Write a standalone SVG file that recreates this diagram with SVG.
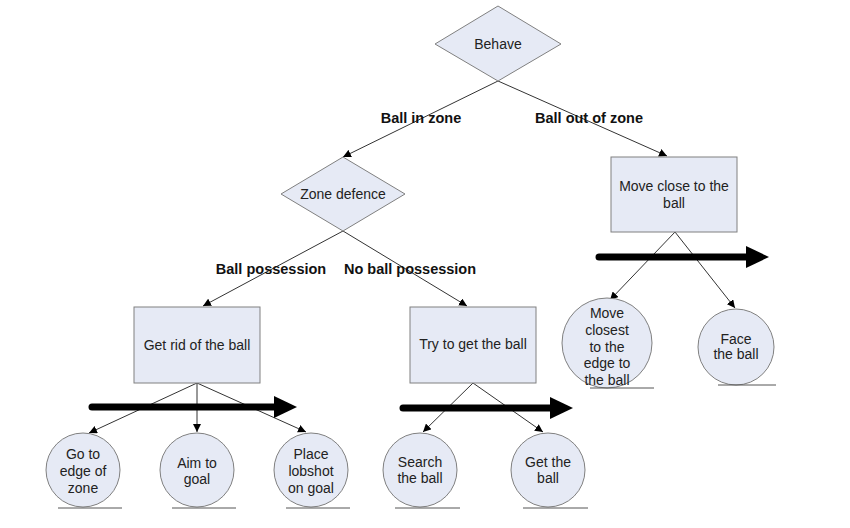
<svg xmlns="http://www.w3.org/2000/svg" width="850" height="528" viewBox="0 0 850 528">
<defs>
<style>
.shape{fill:#e6eaf5;stroke:#808080;stroke-width:1}
.t{font-family:"Liberation Sans",Arial,sans-serif;font-size:14px;fill:#222;text-anchor:middle}
.lb{font-family:"Liberation Sans",Arial,sans-serif;font-size:14.5px;font-weight:bold;fill:#111;text-anchor:middle}
.c{stroke:#333;stroke-width:1;fill:none;marker-end:url(#ah)}
.thick{stroke:#000;stroke-width:7;stroke-linecap:round;fill:none}
.sh{stroke:#555;stroke-width:1}
</style>
<marker id="ah" viewBox="0 0 10 10" refX="10" refY="5" markerWidth="8" markerHeight="8" markerUnits="userSpaceOnUse" orient="auto">
<path d="M0,0 L10,5 L0,10 Z" fill="#000"/>
</marker>
</defs>
<rect width="850" height="528" fill="#fff"/>
<g id="connectors">
<line class="c" x1="498" y1="81" x2="343" y2="157"/>
<line class="c" x1="498" y1="81" x2="667" y2="156"/>
<line class="c" x1="343" y1="231" x2="203" y2="306"/>
<line class="c" x1="343" y1="231" x2="467" y2="306"/>
<line class="c" x1="197" y1="383" x2="89" y2="433"/>
<line class="c" x1="197" y1="383" x2="197" y2="432"/>
<line class="c" x1="197" y1="383" x2="306" y2="432"/>
<line class="c" x1="473" y1="383" x2="423" y2="432"/>
<line class="c" x1="473" y1="383" x2="543" y2="432"/>
<line class="c" x1="675" y1="232" x2="610" y2="300"/>
<line class="c" x1="675" y1="232" x2="735" y2="308"/>
<g id="seq1"><line class="thick" x1="92" y1="407" x2="276" y2="407"/><polygon points="274,396 297,407 274,418" fill="#000"/></g>
<g id="seq2"><line class="thick" x1="403" y1="408" x2="552" y2="408"/><polygon points="550,397 573,408 550,419" fill="#000"/></g>
<g id="seq3"><line class="thick" x1="599" y1="257" x2="748" y2="257"/><polygon points="746,246 769,257 746,268" fill="#000"/></g>
<text class="lb" x="421" y="123">Ball in zone</text>
<text class="lb" x="589" y="123">Ball out of zone</text>
<text class="lb" x="271" y="274">Ball possession</text>
<text class="lb" x="410" y="274">No ball possession</text>
</g>
<g id="behave">
<polygon class="shape" points="498,6 561,44 498,81 435,44"/>
<text class="t" x="498" y="49">Behave</text>
</g>
<g id="zone-defence">
<polygon class="shape" points="343,157 405,194 343,231 281,194"/>
<text class="t" x="343" y="199">Zone defence</text>
</g>
<g id="move-close">
<rect class="shape" x="611" y="157" width="126" height="75"/>
<text class="t" x="674" y="191">Move close to the</text>
<text class="t" x="674" y="208">ball</text>
</g>
<g id="get-rid">
<rect class="shape" x="134" y="307" width="126" height="76"/>
<text class="t" x="197" y="350">Get rid of the ball</text>
</g>
<g id="try-get">
<rect class="shape" x="410" y="307" width="126" height="76"/>
<text class="t" x="473" y="349">Try to get the ball</text>
</g>
<g id="go-edge">
<circle class="shape" cx="83" cy="470" r="37"/>
<line class="sh" x1="58" y1="508" x2="122" y2="508"/>
<text class="t" x="83" y="459">Go to</text>
<text class="t" x="83" y="476">edge of</text>
<text class="t" x="83" y="493">zone</text>
</g>
<g id="aim-goal">
<circle class="shape" cx="197" cy="470" r="37"/>
<line class="sh" x1="172" y1="508" x2="236" y2="508"/>
<text class="t" x="197" y="468">Aim to</text>
<text class="t" x="197" y="484">goal</text>
</g>
<g id="lobshot">
<circle class="shape" cx="311" cy="470" r="37"/>
<line class="sh" x1="286" y1="508" x2="350" y2="508"/>
<text class="t" x="311" y="459">Place</text>
<text class="t" x="311" y="476">lobshot</text>
<text class="t" x="311" y="493">on goal</text>
</g>
<g id="search-ball">
<circle class="shape" cx="420" cy="470" r="37"/>
<line class="sh" x1="395" y1="508" x2="460" y2="508"/>
<text class="t" x="420" y="467">Search</text>
<text class="t" x="420" y="483">the ball</text>
</g>
<g id="get-ball">
<circle class="shape" cx="548" cy="470" r="37"/>
<line class="sh" x1="523" y1="508" x2="588" y2="508"/>
<text class="t" x="548" y="467">Get the</text>
<text class="t" x="548" y="483">ball</text>
</g>
<g id="move-closest">
<circle class="shape" cx="607" cy="343" r="45"/>
<line class="sh" x1="590" y1="388" x2="654" y2="388"/>
<text class="t" x="607" y="318">Move</text>
<text class="t" x="607" y="335">closest</text>
<text class="t" x="607" y="352">to the</text>
<text class="t" x="607" y="368">edge to</text>
<text class="t" x="607" y="385">the ball</text>
</g>
<g id="face-ball">
<circle class="shape" cx="736" cy="347" r="38"/>
<line class="sh" x1="718" y1="385" x2="776" y2="385"/>
<text class="t" x="736" y="344">Face</text>
<text class="t" x="736" y="359">the ball</text>
</g>
</svg>
